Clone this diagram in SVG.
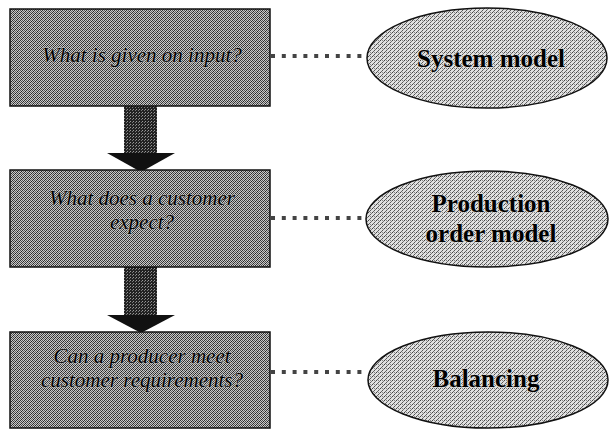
<svg xmlns="http://www.w3.org/2000/svg" width="610" height="429" viewBox="0 0 610 429">
  <defs>
    <pattern id="ditherBox" width="4" height="4" patternUnits="userSpaceOnUse">
      <rect width="4" height="4" fill="#c8c8c8"/>
      <rect x="0" y="0" width="1" height="1" fill="#333"/>
      <rect x="2" y="0" width="1" height="1" fill="#555"/>
      <rect x="1" y="1" width="1" height="1" fill="#444"/>
      <rect x="3" y="1" width="1" height="1" fill="#222"/>
      <rect x="0" y="2" width="1" height="1" fill="#555"/>
      <rect x="2" y="2" width="1" height="1" fill="#333"/>
      <rect x="1" y="3" width="1" height="1" fill="#222"/>
      <rect x="3" y="3" width="1" height="1" fill="#666"/>
    </pattern>
    <pattern id="ditherEll" width="4" height="4" patternUnits="userSpaceOnUse">
      <rect width="4" height="4" fill="#e0e0e0"/>
      <rect x="0" y="0" width="1" height="1" fill="#444"/>
      <rect x="2" y="2" width="1" height="1" fill="#555"/>
      <rect x="3" y="1" width="1" height="1" fill="#777"/>
      <rect x="1" y="3" width="1" height="1" fill="#666"/>
      <rect x="2" y="0" width="1" height="1" fill="#888"/>
    </pattern>
    <pattern id="ditherShaft" width="3" height="3" patternUnits="userSpaceOnUse">
      <rect width="3" height="3" fill="#222"/>
      <rect x="1" y="1" width="1" height="1" fill="#999"/>
      <rect x="0" y="2" width="1" height="1" fill="#777"/>
    </pattern>
  </defs>
  <style>
    .box { fill: url(#ditherBox); stroke: #111; stroke-width: 1.5; }
    .ell { fill: url(#ditherEll); stroke: #111; stroke-width: 1.5; }
    .q { font-family: "Liberation Serif", "Times New Roman", serif; font-style: italic; font-size: 21px; fill: #000; stroke: #bbb; stroke-width: 0.8; paint-order: stroke; text-anchor: middle; }
    .m { font-family: "Liberation Serif", "Times New Roman", serif; font-weight: bold; font-size: 25px; fill: #000; stroke: #ddd; stroke-width: 1.2; paint-order: stroke; text-anchor: middle; }
    .dots { stroke: #444; stroke-width: 4; stroke-dasharray: 4 6.8; fill: none; }
    .shaft { fill: url(#ditherShaft); }
    .head { fill: #111; }
  </style>

  <g id="connectors">
    <line class="dots" x1="271" y1="56" x2="364" y2="56"/>
    <line class="dots" x1="271" y1="218" x2="364" y2="218"/>
    <line class="dots" x1="271" y1="372" x2="364" y2="372"/>
    <g id="arrow1">
      <rect class="shaft" x="124" y="106" width="33" height="48"/>
      <polygon class="head" points="107,153 175,153 141,172"/>
    </g>
    <g id="arrow2">
      <rect class="shaft" x="124" y="267" width="33" height="49"/>
      <polygon class="head" points="107,315 175,315 141,333"/>
    </g>
  </g>

  <g id="box1">
    <rect class="box" x="10" y="9" width="260" height="97"/>
    <text class="q" x="142" y="62">What is given on input?</text>
  </g>
  <g id="box2">
    <rect class="box" x="10" y="170" width="260" height="97"/>
    <text class="q" x="142" y="205">What does a customer</text>
    <text class="q" x="142" y="229">expect?</text>
  </g>
  <g id="box3">
    <rect class="box" x="10" y="332" width="260" height="96"/>
    <text class="q" x="142" y="363">Can a producer meet</text>
    <text class="q" x="142" y="387">customer requirements?</text>
  </g>

  <g id="ell1">
    <ellipse class="ell" cx="487" cy="58" rx="120" ry="50"/>
    <text class="m" x="491" y="67">System model</text>
  </g>
  <g id="ell2">
    <ellipse class="ell" cx="487" cy="219" rx="121" ry="48"/>
    <text class="m" x="491" y="212">Production</text>
    <text class="m" x="491" y="242">order model</text>
  </g>
  <g id="ell3">
    <ellipse class="ell" cx="488" cy="380" rx="120" ry="48"/>
    <text class="m" x="486" y="387">Balancing</text>
  </g>
</svg>
